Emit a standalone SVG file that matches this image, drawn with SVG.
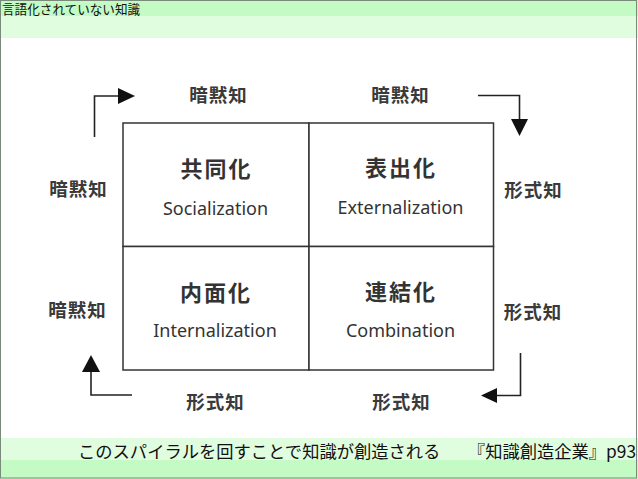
<svg xmlns="http://www.w3.org/2000/svg" width="638" height="479" viewBox="0 0 638 479">
<style>
.jp{font-family:"Noto Sans CJK JP","Noto Sans CJK SC",sans-serif;fill:#333}
.lab{font-size:18.5px;text-anchor:middle;font-weight:bold;letter-spacing:1px;fill:#3a3a3a}
.big{font-size:22px;text-anchor:middle;font-weight:bold;letter-spacing:2px;fill:#333}
.en{font-family:"Noto Sans","Liberation Sans",sans-serif;font-size:18px;text-anchor:middle;fill:#333}
.ln{fill:none;stroke:#222;stroke-width:1.6}
.ah{fill:#111}
.cell{fill:#fff;stroke:#333;stroke-width:1.5}
</style>
<rect x="0" y="0" width="638" height="479" fill="#fff"/>
<g id="header">
<rect x="0" y="0" width="638" height="16" fill="#c4fbc4"/>
<rect x="0" y="16" width="638" height="22" fill="#e0fde0"/>
<text x="2" y="13.5" class="jp" style="font-size:12.6px;fill:#111">言語化されていない知識</text>
</g>
<g id="footer">
<rect x="0" y="438" width="638" height="22" fill="#e0fde0"/>
<rect x="0" y="460" width="638" height="19" fill="#c4fbc4"/>
<text x="78" y="458" class="jp" style="font-size:17.3px;fill:#111">このスパイラルを回すことで知識が創造される</text>
<text x="636" y="458" class="jp" style="font-size:17.3px;fill:#111;text-anchor:end">『知識創造企業』p93</text>
</g>
<rect x="0.5" y="0.5" width="636" height="477.5" fill="none" stroke="#7a8a7a" stroke-width="1"/>
<g id="socialization">
<rect x="123" y="123" width="186" height="123.5" class="cell"/>
<text x="216.5" y="177" class="jp big">共同化</text>
<text x="215.5" y="215" class="en">Socialization</text>
</g>
<g id="externalization">
<rect x="309" y="123" width="184.5" height="123.5" class="cell"/>
<text x="401" y="176" class="jp big">表出化</text>
<text x="400.5" y="214" class="en">Externalization</text>
</g>
<g id="internalization">
<rect x="123" y="246.5" width="186" height="123.5" class="cell"/>
<text x="216" y="301" class="jp big">内面化</text>
<text x="215" y="337" class="en">Internalization</text>
</g>
<g id="combination">
<rect x="309" y="246.5" width="184.5" height="123.5" class="cell"/>
<text x="401" y="300" class="jp big">連結化</text>
<text x="400.5" y="337" class="en">Combination</text>
</g>
<g id="labels">
<text x="218.5" y="102" class="jp lab">暗黙知</text>
<text x="400.5" y="102" class="jp lab">暗黙知</text>
<text x="78.5" y="195.5" class="jp lab">暗黙知</text>
<text x="77.5" y="317" class="jp lab">暗黙知</text>
<text x="533.5" y="197" class="jp lab">形式知</text>
<text x="533" y="318.5" class="jp lab">形式知</text>
<text x="215.5" y="409" class="jp lab">形式知</text>
<text x="401.5" y="409" class="jp lab">形式知</text>
</g>
<g id="connectors">
<polyline class="ln" points="94.5,137 94.5,96 119,96"/>
<polygon class="ah" points="118,88 135,96 118,104"/>
<polyline class="ln" points="478,95.5 519.5,95.5 519.5,120"/>
<polygon class="ah" points="511,119 528,119 519.5,136"/>
<polyline class="ln" points="520.5,353 520.5,395.5 496,395.5"/>
<polygon class="ah" points="497,388 481,395.5 497,403"/>
<polyline class="ln" points="132,395 91,395 91,371"/>
<polygon class="ah" points="82,372 100,372 91,355"/>
</g>
</svg>
